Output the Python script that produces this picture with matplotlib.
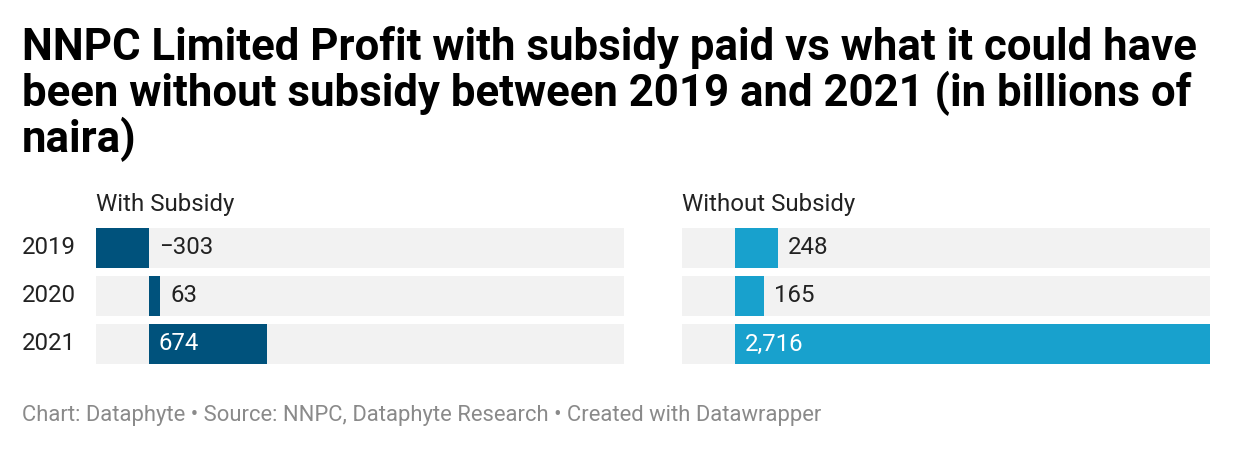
import matplotlib
matplotlib.use("Agg")
import matplotlib.pyplot as plt

plt.rcParams['font.family'] = ['Roboto', 'DejaVu Sans']

# data (billions of naira)
years = ['2019', '2020', '2021']
with_subsidy = [-303, 63, 674]
without_subsidy = [248, 165, 2716]
panel_titles = ['With Subsidy', 'Without Subsidy']

title_lines = [
    'NNPC Limited Profit with subsidy paid vs what it could have',
    'been without subsidy between 2019 and 2021 (in billions of',
    'naira)',
]
footer = 'Chart: Dataphyte \u2022 Source: NNPC, Dataphyte Research \u2022 Created with Datawrapper'

W, H = 1240, 450
fig = plt.figure(figsize=(W / 100, H / 100), dpi=100)
fig.patch.set_facecolor('white')

# title, one line per text for exact baselines
for i, line in enumerate(title_lines):
    fig.text(22 / W, 1 - (60 + i * 46) / H, line, fontsize=31.5, fontweight='bold',
             color='#000000', va='baseline', ha='left')

fig.text(22 / W, 1 - 415 / H, footer, fontsize=15.8, color='#8a8a8a', va='center', ha='left')

xmin = min(with_subsidy + without_subsidy)
xmax = max(with_subsidy + without_subsidy)
colors = ['#00527c', '#18a1cd']
lefts = [96, 682]
panel_w = 528
top, bottom = 228, 364
pitch = 48
bar_h = 40 / pitch
fs = 17.3

for p, (vals, col, lx, ptitle) in enumerate(zip([with_subsidy, without_subsidy], colors, lefts, panel_titles)):
    ax = fig.add_axes([lx / W, 1 - bottom / H, panel_w / W, (bottom - top) / H])
    ax.set_xlim(xmin, xmax)
    ax.set_ylim(len(years) - 1 + bar_h / 2, -bar_h / 2)
    ypos = list(range(len(years)))
    ax.barh(ypos, [xmax - xmin] * len(years), left=xmin, height=bar_h, color='#f2f2f2', zorder=1)
    ax.barh(ypos, vals, height=bar_h, color=col, zorder=2)
    for y, v in zip(ypos, vals):
        txt = f'{v:,}'.replace('-', '\u2212')
        if v > 500:
            ax.annotate(txt, xy=(0, y), xytext=(10, 0), textcoords='offset pixels',
                        va='center', ha='left', fontsize=fs, color='white', zorder=3)
        else:
            ax.annotate(txt, xy=(max(v, 0), y), xytext=(10, 0), textcoords='offset pixels',
                        va='center', ha='left', fontsize=fs, color='#222222', zorder=3)
    ax.axis('off')
    fig.text(lx / W, 1 - 205 / H, ptitle, fontsize=fs, color='#222222', va='center', ha='left')
    if p == 0:
        for y, yr in zip(ypos, years):
            fig.text(22 / W, 1 - (top + 20 + y * pitch) / H, yr, fontsize=fs,
                     color='#222222', va='center', ha='left')

fig.savefig('out.png', dpi=100, facecolor='white')
